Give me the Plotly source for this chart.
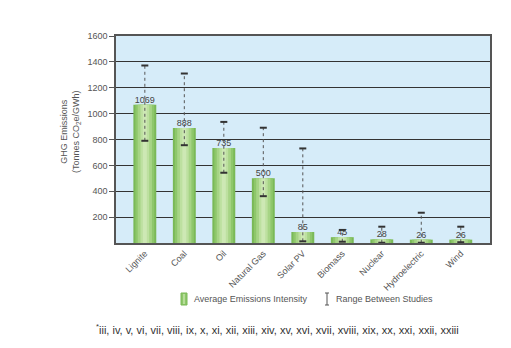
import plotly.graph_objects as go

# Lifecycle GHG emissions intensity by generation source
sources = ["Lignite", "Coal", "Oil", "Natural Gas", "Solar PV",
           "Biomass", "Nuclear", "Hydroelectric", "Wind"]
average = [1069, 888, 735, 500, 85, 45, 28, 26, 26]
range_low = [790, 756, 543, 362, 13, 10, 2, 2, 6]
range_high = [1372, 1310, 936, 891, 731, 101, 126, 234, 126]
y_ticks = [200, 400, 600, 800, 1000, 1200, 1400, 1600]

footnote = ("<sup>*</sup>iii, iv, v, vi, vii, viii, ix, x, xi, xii, xiii, xiv, xv, xvi, "
            "xvii, xviii, xix, xx, xxi, xxii, xxiii")
FONT = "Liberation Sans, Arial"

fig = go.Figure()

# Layered bars of shrinking width give each column a soft cylindrical shading
layers = [(0.58, "#7ab957"), (0.48, "#8ec76b"), (0.36, "#a6d485"),
          (0.22, "#bde0a0"), (0.10, "#cde8b4")]
for i, (w, c) in enumerate(layers):
    last = i == len(layers) - 1
    fig.add_trace(go.Bar(
        x=sources, y=average, width=w,
        marker=dict(color=c, line=dict(width=0)),
        showlegend=False,
        text=[str(v) for v in average] if last else None,
        textposition="outside" if last else "none",
        constraintext="none",
        textfont=dict(size=9, color="#444", family=FONT),
        cliponaxis=False,
        hoverinfo="skip",
    ))

# Dotted range whiskers between studies
wx, wy = [], []
for s, lo, hi in zip(sources, range_low, range_high):
    wx += [s, s, None]
    wy += [lo, hi, None]
fig.add_trace(go.Scatter(
    x=wx, y=wy, mode="lines",
    line=dict(color="#555", width=1, dash="dot"),
    showlegend=False, hoverinfo="skip",
))
# Whisker caps
fig.add_trace(go.Scatter(
    x=sources + sources, y=range_low + range_high, mode="markers",
    marker=dict(symbol="line-ew-open", size=5, color="#333",
                line=dict(width=2, color="#333")),
    showlegend=False, hoverinfo="skip",
))


def px_x(px):
    return (px - 116) / 374


def px_y(py):
    return (243 - py) / 207


# Legend drawn below the plot
fig.add_shape(type="rect", xref="paper", yref="paper",
              x0=px_x(181), x1=px_x(187), y0=px_y(305), y1=px_y(293),
              fillcolor="#8ec76b", line=dict(color="#7ab957", width=1))
fig.add_shape(type="line", xref="paper", yref="paper",
              x0=px_x(184), x1=px_x(184), y0=px_y(304), y1=px_y(294),
              line=dict(color="#c5e5a9", width=1.5))
fig.add_annotation(text="Average Emissions Intensity", xref="paper", yref="paper",
                   x=px_x(192), y=px_y(299), xanchor="left", yanchor="middle",
                   showarrow=False, font=dict(size=9, color="#555", family=FONT))
for y0, y1, xa, xb in [(293, 305, 327, 327), (293, 293, 325, 329), (305, 305, 325, 329)]:
    fig.add_shape(type="line", xref="paper", yref="paper",
                  x0=px_x(xa), x1=px_x(xb), y0=px_y(y0), y1=px_y(y1),
                  line=dict(color="#555", width=1))
fig.add_annotation(text="Range Between Studies", xref="paper", yref="paper",
                   x=px_x(334), y=px_y(299), xanchor="left", yanchor="middle",
                   showarrow=False, font=dict(size=9, color="#555", family=FONT))

fig.add_annotation(
    text="GHG Emissions<br>(Tonnes CO<sub>2</sub>e/GWh)",
    xref="paper", yref="paper", x=px_x(70), y=px_y(132),
    xanchor="center", yanchor="middle",
    textangle=-90, showarrow=False,
    font=dict(size=9, color="#555", family=FONT),
)
fig.add_annotation(
    text=footnote, xref="paper", yref="paper",
    x=px_x(94), y=px_y(329), xanchor="left", yanchor="middle",
    showarrow=False,
    font=dict(size=11, color="#333", family=FONT),
)

fig.update_layout(
    width=511, height=348,
    margin=dict(l=116, r=21, t=36, b=105),
    paper_bgcolor="white",
    plot_bgcolor="#d6ecf9",
    barmode="overlay",
    showlegend=False,
    font=dict(family=FONT, color="#555"),
)
fig.update_xaxes(
    range=[-0.73, 8.74], tickangle=-45,
    tickfont=dict(size=9, color="#555"),
    showline=True, linecolor="#555", linewidth=1.5, mirror=True,
    showgrid=False, ticks="",
)
fig.update_yaxes(
    range=[0, 1600], tickvals=y_ticks,
    tickfont=dict(size=9, color="#555"),
    showline=True, linecolor="#555", linewidth=1.5, mirror=True,
    showgrid=True, gridcolor="#333", gridwidth=1,
    ticks="outside", ticklen=5, tickcolor="#555",
    zeroline=False,
)

fig.write_html("out.html")
